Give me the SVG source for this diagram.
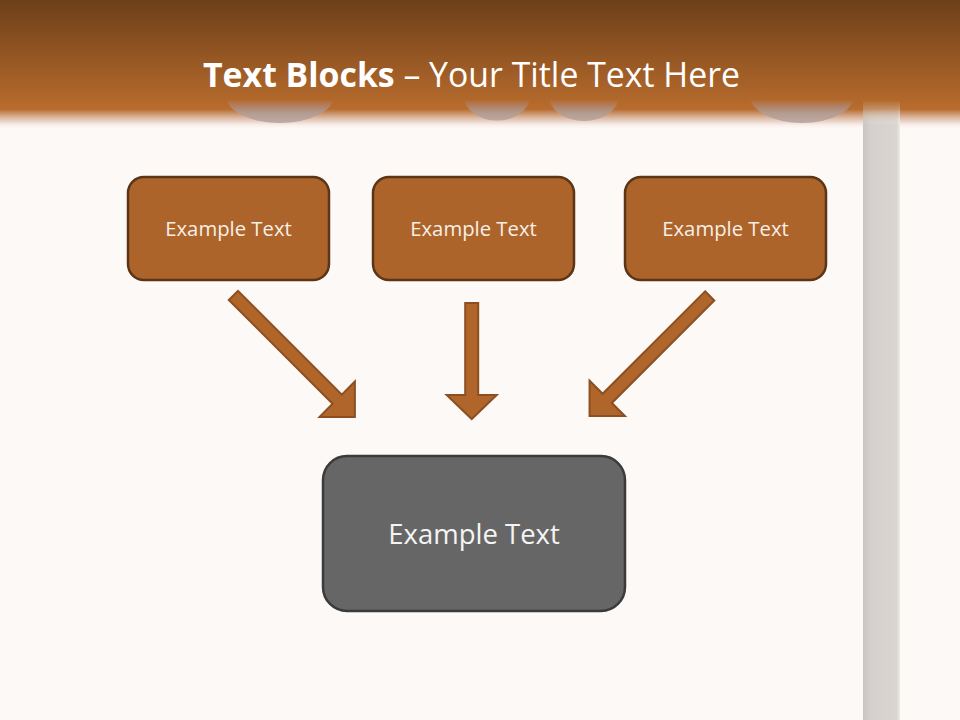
<svg xmlns="http://www.w3.org/2000/svg" width="960" height="720" viewBox="0 0 960 720">
  <defs>
    <linearGradient id="hdr" x1="0" y1="0" x2="0" y2="1">
      <stop offset="0" stop-color="#6d3f19"/>
      <stop offset="0.8" stop-color="#b56a2c"/>
      <stop offset="0.84" stop-color="#b96c2e"/>
      <stop offset="0.9" stop-color="#d9b39a"/>
      <stop offset="0.96" stop-color="#f7eeea"/>
      <stop offset="1" stop-color="#fcf9f6" stop-opacity="0"/>
    </linearGradient>
    <linearGradient id="pole" x1="0" y1="0" x2="1" y2="0">
      <stop offset="0" stop-color="#c9c5c2"/>
      <stop offset="0.2" stop-color="#d5d0cd"/>
      <stop offset="0.9" stop-color="#dad5d1"/>
      <stop offset="0.97" stop-color="#e6e2de"/>
      <stop offset="1" stop-color="#f4f0ec"/>
    </linearGradient>
    <linearGradient id="poletop" x1="0" y1="0" x2="0" y2="1">
      <stop offset="0" stop-color="#ffffff" stop-opacity="0"/>
      <stop offset="1" stop-color="#ffffff" stop-opacity="1"/>
    </linearGradient>
    <mask id="polemask">
      <rect x="860" y="100" width="45" height="25" fill="url(#poletop)"/>
    </mask>
    <linearGradient id="bumpfade" gradientUnits="userSpaceOnUse" x1="0" y1="100" x2="0" y2="123">
      <stop offset="0" stop-color="#b46a2d"/>
      <stop offset="0.3" stop-color="#b0836a"/>
      <stop offset="0.6" stop-color="#b59d92"/>
      <stop offset="1" stop-color="#bfaaa2"/>
    </linearGradient>
    <clipPath id="bclip">
      <rect x="0" y="100" width="960" height="40"/>
    </clipPath>
    <filter id="blur" x="-20%" y="-50%" width="140%" height="200%">
      <feGaussianBlur stdDeviation="1"/>
    </filter>
    <style>
      .box { fill: #ad642b; stroke: #5b3516; stroke-width: 2.5; }
      .main { fill: #666666; stroke: #3b3b3b; stroke-width: 2.5; }
      .lbl { font-family: "Open Sans", "Noto Sans", sans-serif; fill: #f7efe6; text-anchor: middle; }
      .arrow { fill: #b0652a; stroke: #8c4f21; stroke-width: 2; stroke-linejoin: miter; }
      .bump { fill: url(#bumpfade); }
    </style>
  </defs>

  <rect width="960" height="720" fill="#fcf9f6"/>

  <!-- header -->
  <rect x="0" y="0" width="960" height="130" fill="url(#hdr)"/>

  <!-- pole -->
  <rect x="863" y="125" width="37" height="595" fill="url(#pole)"/>
  <rect x="863" y="100" width="37" height="25" fill="url(#pole)" mask="url(#polemask)"/>

  <!-- scallop shadows -->
  <g clip-path="url(#bclip)">
    <ellipse class="bump" cx="280" cy="96" rx="54" ry="27"/>
    <ellipse class="bump" cx="497" cy="96" rx="33" ry="24.5"/>
    <ellipse class="bump" cx="584" cy="96" rx="35" ry="25"/>
    <ellipse class="bump" cx="802" cy="96" rx="52" ry="27"/>
  </g>

  <text x="471.5" y="87" font-family="'Open Sans', 'Noto Sans', sans-serif" font-size="33.8" fill="#ffffff" text-anchor="middle"><tspan font-weight="bold">Text Blocks</tspan> – Your Title Text Here</text>

  <!-- connectors -->
  <g id="connectors">
    <path class="arrow" transform="translate(233.4,295.4) rotate(-45)" d="M -6.5 0 H 6.5 V 146.8 H 25 L 0 171.8 L -25 146.8 H -6.5 Z"/>
    <path class="arrow" transform="translate(471.7,303)" d="M -6.5 0 H 6.5 V 92 H 25 L 0 116 L -25 92 H -6.5 Z"/>
    <path class="arrow" transform="translate(709.7,295.9) rotate(45)" d="M -6.5 0 H 6.5 V 144.9 H 25 L 0 169.9 L -25 144.9 H -6.5 Z"/>
  </g>

  <g id="node1">
    <rect class="box" x="128" y="177" width="201" height="103" rx="16"/>
    <text class="lbl" x="228.5" y="236" font-size="20.3">Example Text</text>
  </g>
  <g id="node2">
    <rect class="box" x="373" y="177" width="201" height="103" rx="16"/>
    <text class="lbl" x="473.5" y="236" font-size="20.3">Example Text</text>
  </g>
  <g id="node3">
    <rect class="box" x="625" y="177" width="201" height="103" rx="16"/>
    <text class="lbl" x="725.5" y="236" font-size="20.3">Example Text</text>
  </g>
  <g id="node4">
    <rect class="main" x="323" y="456" width="302" height="155" rx="24"/>
    <text class="lbl" x="474" y="544" font-size="27.5" style="fill:#f4f4f4">Example Text</text>
  </g>
</svg>
